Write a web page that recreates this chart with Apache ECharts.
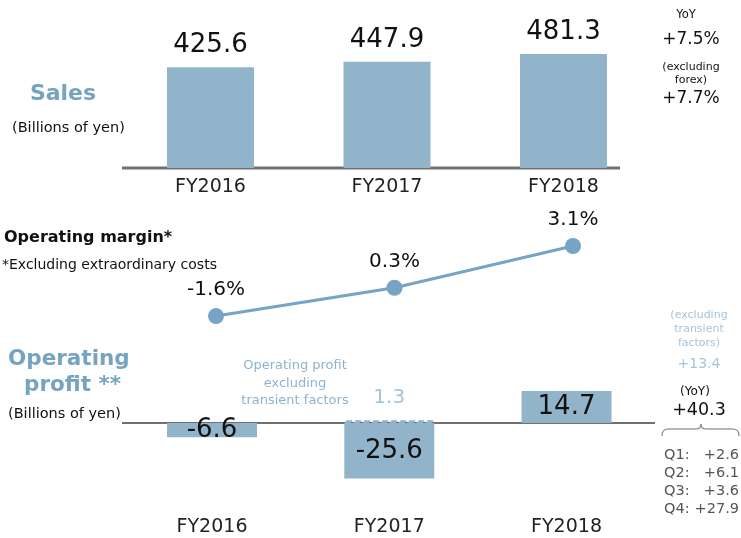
<!DOCTYPE html>
<html>
<head>
<meta charset="utf-8">
<script src="https://cdn.jsdelivr.net/npm/echarts@6/dist/echarts.min.js"></script>
<style>html,body{margin:0;padding:0;background:#fff}#c{width:741px;height:538px}</style>
</head>
<body>
<div id="c"></div>
<script>
const categories = ['FY2016', 'FY2017', 'FY2018'];
const salesValues = [425.6, 447.9, 481.3];
const marginValues = [-1.6, 0.3, 3.1];
const profitValues = [-6.6, -25.6, 14.7];
const profitExTransient = [null, 1.3, null];
const salesYoY = ['+7.5%', '+7.7%'];
const profitYoY = ['+13.4', '+40.3'];
const quarterLabels = ['Q1:', 'Q2:', 'Q3:', 'Q4:'];
const quarterValues = ['+2.6', '+6.1', '+3.6', '+27.9'];

const FONT = '"DejaVu Sans", Verdana, sans-serif';
const BAR = '#92b4cb';
const LINE = '#76a4c4';
const TITLE = '#76a3c0';
const LIGHT = '#a6c4d9';
const LIGHT2 = '#8fb3cc';

function txt(x, y, text, size, opts) {
  opts = opts || {};
  return {
    type: 'text', silent: true,
    style: {
      x: x, y: y, text: text,
      fontSize: size, fontFamily: FONT,
      fontWeight: opts.bold ? 'bold' : 'normal',
      fill: opts.color || '#111',
      textAlign: opts.align || 'left',
      textVerticalAlign: 'middle'
    }
  };
}
function seg(x1, y1, x2, y2) {
  return {type: 'line', silent: true, shape: {x1: x1, y1: y1, x2: x2, y2: y2}, style: {stroke: '#888', lineWidth: 1.2}};
}
function curve(x1, y1, cx, cy, x2, y2) {
  return {type: 'bezierCurve', silent: true, shape: {x1: x1, y1: y1, cpx1: cx, cpy1: cy, x2: x2, y2: y2}, style: {stroke: '#888', lineWidth: 1.2, fill: null}};
}

const chart = echarts.init(document.getElementById('c'), null, {renderer: 'canvas'});
const hiddenY = {type: 'value', show: false, splitLine: {show: false}};
const hiddenXBase = {type: 'category', data: categories, axisLine: {show: false}, axisTick: {show: false}};

const graphics = [
  {type: 'line', silent: true, shape: {x1: 122, y1: 168, x2: 620, y2: 168}, style: {stroke: '#707070', lineWidth: 3}},
  {type: 'line', silent: true, shape: {x1: 122, y1: 423, x2: 655, y2: 423}, style: {stroke: '#707070', lineWidth: 2}},
  txt(63, 94, 'Sales', 22, {bold: true, color: TITLE, align: 'center'}),
  txt(12, 128, '(Billions of yen)', 14.5),
  txt(4, 238, 'Operating margin*', 16, {bold: true}),
  txt(2, 265, '*Excluding extraordinary costs', 14),
  txt(8, 359, 'Operating', 21.5, {bold: true, color: TITLE}),
  txt(24, 385, 'profit **', 21.5, {bold: true, color: TITLE}),
  txt(8, 414, '(Billions of yen)', 14.5),
  txt(295, 366, 'Operating profit', 13, {color: LIGHT2, align: 'center'}),
  txt(295, 384, 'excluding', 13, {color: LIGHT2, align: 'center'}),
  txt(295, 401, 'transient factors', 13, {color: LIGHT2, align: 'center'}),
  txt(686, 15, 'YoY', 11.5, {align: 'center'}),
  txt(691, 40, salesYoY[0], 17, {align: 'center'}),
  txt(691, 67, '(excluding', 11, {align: 'center'}),
  txt(691, 80, 'forex)', 11, {align: 'center'}),
  txt(691, 99, salesYoY[1], 17, {align: 'center'}),
  txt(699, 315, '(excluding', 11, {align: 'center', color: LIGHT}),
  txt(699, 329, 'transient', 11, {align: 'center', color: LIGHT}),
  txt(699, 343, 'factors)', 11, {align: 'center', color: LIGHT}),
  txt(699, 364, profitYoY[0], 14, {align: 'center', color: LIGHT}),
  txt(695, 392, '(YoY)', 12, {align: 'center'}),
  txt(699, 410, profitYoY[1], 17.5, {align: 'center'}),
  curve(662, 436, 662, 429, 668, 429),
  seg(668, 429, 696, 429),
  curve(696, 429, 701, 429, 701, 424),
  curve(701, 424, 701, 429, 706, 429),
  seg(706, 429, 733, 429),
  curve(733, 429, 739, 429, 739, 436)
];
quarterLabels.forEach(function (q, i) {
  const y = 455 + i * 18;
  graphics.push(txt(664, y, q, 14.5, {color: '#555'}));
  graphics.push(txt(739, y, quarterValues[i], 14.5, {color: '#555', align: 'right'}));
});

chart.setOption({
  animation: false,
  backgroundColor: '#fff',
  textStyle: {fontFamily: FONT},
  grid: [
    {left: 122.25, width: 529.5, top: 49.5, height: 118.5},
    {left: 126.75, width: 535.5, top: 232.6, height: 89.4},
    {left: 123.4, width: 531.75, top: 379.6, height: 108.5}
  ],
  xAxis: [
    Object.assign({}, hiddenXBase, {gridIndex: 0, axisLabel: {margin: 10, fontSize: 19, color: '#222', fontFamily: FONT}}),
    Object.assign({}, hiddenXBase, {gridIndex: 1, axisLabel: {show: false}}),
    Object.assign({}, hiddenXBase, {gridIndex: 2, axisLabel: {margin: 29.5, fontSize: 19, color: '#222', fontFamily: FONT}})
  ],
  yAxis: [
    Object.assign({}, hiddenY, {gridIndex: 0, min: 0, max: 500}),
    Object.assign({}, hiddenY, {gridIndex: 1, min: -2, max: 4}),
    Object.assign({}, hiddenY, {gridIndex: 2, min: -30, max: 20})
  ],
  series: [
    {
      type: 'bar', xAxisIndex: 0, yAxisIndex: 0, data: salesValues, barWidth: 87,
      itemStyle: {color: BAR},
      label: {show: true, position: 'top', distance: 9, fontSize: 26, color: '#111', fontFamily: FONT}
    },
    {
      type: 'line', xAxisIndex: 1, yAxisIndex: 1, data: marginValues,
      symbol: 'circle', symbolSize: 16,
      lineStyle: {color: LINE, width: 3}, itemStyle: {color: LINE},
      label: {show: true, position: 'top', distance: 8, fontSize: 20, color: '#111', fontFamily: FONT,
        formatter: function (p) { return p.value.toFixed(1) + '%'; }}
    },
    {
      type: 'bar', xAxisIndex: 2, yAxisIndex: 2, data: profitValues, barWidth: 90,
      itemStyle: {color: BAR},
      label: {show: true, position: 'inside', fontSize: 26, color: '#111', fontFamily: FONT}
    },
    {
      type: 'bar', xAxisIndex: 2, yAxisIndex: 2, data: profitExTransient, barWidth: 90, barGap: '-100%',
      itemStyle: {color: 'rgba(255,255,255,0)', borderColor: LIGHT2, borderWidth: 1.5, borderType: 'dashed'},
      label: {show: true, position: 'top', distance: 12, fontSize: 20, color: LIGHT, fontFamily: FONT}
    }
  ],
  graphic: graphics
});
</script>
</body>
</html>
